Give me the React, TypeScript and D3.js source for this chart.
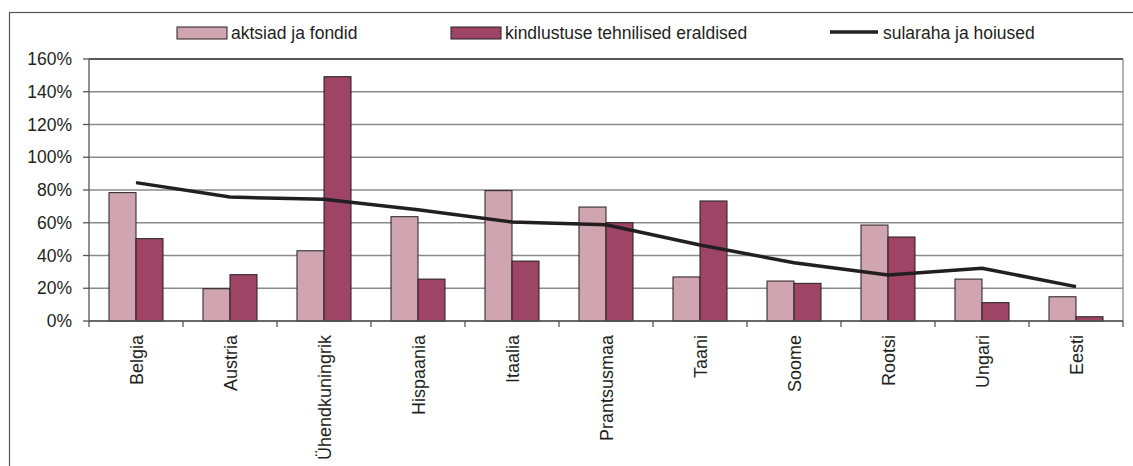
import React from "react";
import * as d3 from "d3";

const categories = ["Belgia", "Austria", "Ühendkuningrik", "Hispaania", "Itaalia", "Prantsusmaa", "Taani", "Soome", "Rootsi", "Ungari", "Eesti"];
const aktsiad = [78.4, 19.7, 42.9, 63.7, 79.6, 69.6, 26.9, 24.4, 58.6, 25.6, 14.8];
const kindlustus = [50.3, 28.3, 149.2, 25.6, 36.6, 60.0, 73.3, 23.0, 51.3, 11.2, 2.6];
const sularaha = [84.5, 75.7, 74.3, 68.0, 60.5, 58.8, 46.4, 35.6, 28.1, 32.2, 21.0];
const yTicks = [0, 20, 40, 60, 80, 100, 120, 140, 160];
const seriesNames = ["aktsiad ja fondid", "kindlustuse tehnilised eraldised", "sularaha ja hoiused"];

const W = 1133, H = 466;
const L = 89, R = 1123, T = 59, B = 321;
const C_LIGHT = "#d0a4b0";
const C_DARK = "#9e4565";
const C_LINE = "#231f20";
const FONT = "'Liberation Sans', Arial, sans-serif";
const FS = 17.5;
const FSX = 18;

export default function App() {
  const x = d3.scaleBand<string>().domain(categories).range([L, R]).padding(0);
  const inner = d3.scaleBand<string>().domain(["a", "k"]).range([0, x.bandwidth()]).paddingInner(0).paddingOuter(0.74);
  const y = d3.scaleLinear().domain([0, 160]).range([B, T]);
  const line = d3.line<number>().x((_, i) => (x(categories[i]) as number) + x.bandwidth() / 2).y((d) => y(d));

  return (
    <svg width={W} height={H} style={{ position: "absolute", left: 0, top: 0, background: "#fff" }} fontFamily={FONT}>
      <rect x={9.5} y={12.5} width={W + 10} height={H + 10} fill="none" stroke="#555" strokeWidth={1.2} />
      {/* gridlines */}
      {yTicks.map((t) => (
        <line key={t} x1={L} x2={R} y1={y(t)} y2={y(t)} stroke={t === 160 ? "#231f20" : "#8a8a8a"} strokeWidth={t === 160 ? 1.5 : 1.3} />
      ))}
      <line x1={R} x2={R} y1={T} y2={B} stroke="#8a8a8a" strokeWidth={1.3} />
      {/* bars */}
      {categories.map((c, i) => (
        <g key={c}>
          <rect x={(x(c) as number) + (inner("a") as number)} y={y(aktsiad[i])} width={inner.bandwidth()} height={B - y(aktsiad[i])} fill={C_LIGHT} stroke={C_LINE} strokeWidth={1} />
          <rect x={(x(c) as number) + (inner("k") as number)} y={y(kindlustus[i])} width={inner.bandwidth()} height={B - y(kindlustus[i])} fill={C_DARK} stroke={C_LINE} strokeWidth={1} />
        </g>
      ))}
      <path d={line(sularaha) as string} fill="none" stroke={C_LINE} strokeWidth={3.5} strokeLinejoin="round" />
      {/* y axis */}
      <line x1={L} x2={L} y1={T} y2={B} stroke="#555" strokeWidth={1.3} />
      {yTicks.map((t) => (
        <g key={"yt" + t}>
          <line x1={L - 6} x2={L} y1={y(t)} y2={y(t)} stroke="#555" strokeWidth={1.3} />
          <text x={72} y={y(t)} dy="0.35em" textAnchor="end" fontSize={FS} fill={C_LINE}>{t}%</text>
        </g>
      ))}
      {/* x axis */}
      <line x1={L} x2={R} y1={B} y2={B} stroke="#555" strokeWidth={1.5} />
      {d3.range(categories.length + 1).map((i) => (
        <line key={"xt" + i} x1={L + i * x.step()} x2={L + i * x.step()} y1={B} y2={B + 6} stroke="#555" strokeWidth={1.3} />
      ))}
      {categories.map((c) => {
        const cx = (x(c) as number) + x.bandwidth() / 2;
        return (
          <text key={"xl" + c} transform={`translate(${cx + 6.5},335) rotate(-90)`} textAnchor="end" fontSize={FSX} fill={C_LINE}>{c}</text>
        );
      })}
      {/* legend */}
      <rect x={177} y={27} width={50} height={12} fill={C_LIGHT} stroke={C_LINE} strokeWidth={1} />
      <text x={231} y={33} dy="0.35em" fontSize={FS} fill={C_LINE}>{seriesNames[0]}</text>
      <rect x={451} y={27} width={50} height={12} fill={C_DARK} stroke={C_LINE} strokeWidth={1} />
      <text x={505} y={33} dy="0.35em" fontSize={FS} fill={C_LINE}>{seriesNames[1]}</text>
      <line x1={830} x2={878} y1={32} y2={32} stroke={C_LINE} strokeWidth={3.5} />
      <text x={883} y={33} dy="0.35em" fontSize={FS} fill={C_LINE}>{seriesNames[2]}</text>
    </svg>
  );
}
